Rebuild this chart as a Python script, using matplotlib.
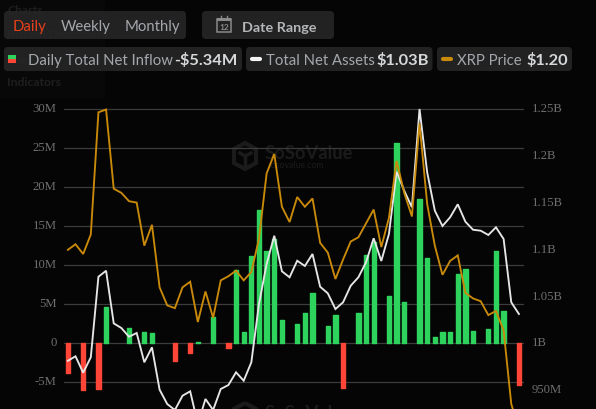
#!/usr/bin/env python3
"""XRP ETF daily net inflow, total net assets and XRP price, dark dashboard style."""

import matplotlib
matplotlib.use('Agg')
import matplotlib.pyplot as plt
from matplotlib.lines import Line2D
from matplotlib.patches import FancyBboxPatch, Polygon, Rectangle
from matplotlib.transforms import ScaledTranslation

# one entry per trading day, inflow in $M, 0 means no bar that day
NET_INFLOW = [
    -3.85, 0, -6.0, 0, -5.9, 4.6, 0, 0, 1.9, 0,
    1.35, 1.25, 0, 0, -2.3, 0, -1.3, 0.1, 0, 3.3,
    0, -0.6, 9.3, 1.45, 11.2, 17.1, 11.8, 13.3, 2.95, 0,
    2.4, 3.85, 6.4, 0, 2.2, 3.55, -5.8, 0, 3.85, 11.3,
    13.0, 0, 6.0, 25.7, 5.3, 0, 18.45, 10.85, 0.73, 1.45,
    1.45, 8.85, 9.45, 1.5, 0, 1.75, 11.85, 4.1, 0, -5.34,
]

# total net assets in $M
NET_ASSETS = [
    981, 985.8, 968.3, 984.7, 1070.8, 1077.2, 1021, 1016, 1006.7, 1010.7,
    979.4, 995.4, 950.1, 934.8, 928.4, 943.7, 948.4, 913.5, 940.2, 928.4,
    950.9, 955.1, 968.7, 959.7, 979.4, 1041.7, 1084.4, 1114.6, 1076.6, 1070.2,
    1087.9, 1082.3, 1095.1, 1060.1, 1053.1, 1036.3, 1043.5, 1061.2, 1070.2, 1086.2,
    1111.9, 1087.6, 1116.5, 1183, 1162.7, 1145, 1250, 1182.4, 1141.4, 1125,
    1134.3, 1148.2, 1129.6, 1121, 1120, 1115.4, 1123.6, 1111.1, 1043.5, 1031,
]

# XRP close in $
XRP_PRICE = [
    2.49, 2.53, 2.46, 2.60, 3.48, 3.50, 2.93, 2.90, 2.84, 2.83,
    2.52, 2.67, 2.22, 2.09, 2.07, 2.22, 2.26, 1.97, 2.19, 2.00,
    2.27, 2.30, 2.34, 2.27, 2.33, 2.57, 3.04, 3.18, 2.80, 2.69,
    2.87, 2.80, 2.86, 2.54, 2.47, 2.28, 2.42, 2.55, 2.58, 2.68,
    2.78, 2.51, 2.72, 3.13, 2.90, 2.73, 3.40, 2.82, 2.52, 2.31,
    2.41, 2.45, 2.18, 2.14, 2.12, 2.02, 2.05, 1.91, 1.38, 1.20,
]

LEFT_TICKS = [-5, 0, 5, 10, 15, 20, 25, 30]
LEFT_LABELS = ['-5M', '0', '5M', '10M', '15M', '20M', '25M', '30M']
RIGHT_TICKS = [950, 1000, 1050, 1100, 1150, 1200, 1250]
RIGHT_LABELS = ['950M', '1B', '1.05B', '1.1B', '1.15B', '1.2B', '1.25B']

BG = '#050505'
PILL = '#262626'
GREEN = '#2dd35c'
RED = '#ff4538'
ORANGE = '#c98a0a'
WHITE = '#e6e6e6'
TICK = '#6e6e6e'
GHOST = '#1b1b1b'
UI_FONT = 'Lato'

W, H = 596, 410
fig = plt.figure(figsize=(W / 100, H / 100), dpi=100, facecolor=BG)

# background layer in pixel coordinates: header widgets and watermarks
ui = fig.add_axes([0, 0, 1, 1], zorder=0)
ui.set_xlim(0, W)
ui.set_ylim(H, 0)
ui.axis('off')


def pill(x0, y0, x1, y1, color=PILL, alpha=0.9):
    ui.add_patch(FancyBboxPatch((x0 + 4, y0 + 4), x1 - x0 - 8, y1 - y0 - 8,
                                boxstyle='round,pad=4,rounding_size=4',
                                fc=color, ec='none', alpha=alpha, zorder=2))


def label(x, y, s, color='#a4a8ad', size=10.7, weight='normal', **kw):
    ui.text(x, y, s, color=color, fontsize=size, fontweight=weight,
            family=UI_FONT, va='center', zorder=3, **kw)


def dash(x0, x1, y, color):
    ui.add_line(Line2D([x0, x1], [y, y], color=color, lw=3,
                       solid_capstyle='round', zorder=3))


def watermark(dy, with_url=True):
    hexagon = [(245, 144), (256, 150), (256, 164), (245, 170), (234, 164), (234, 150)]
    ui.add_patch(Polygon([(x, y + dy) for x, y in hexagon], closed=True, fc='none',
                         ec=GHOST, lw=3, zorder=1))
    ui.add_line(Line2D([240, 245, 251], [154 + dy, 157 + dy, 154 + dy], color=GHOST, lw=2.5, zorder=1))
    ui.add_line(Line2D([245, 245], [157 + dy, 166 + dy], color=GHOST, lw=2.5, zorder=1))
    ui.text(265, 154 + dy, 'SoSoValue', color=GHOST, fontsize=13.2, fontweight='bold',
            family=UI_FONT, va='center', zorder=1)
    if with_url:
        ui.text(268, 166 + dy, 'sosovalue.com', color=GHOST, fontsize=6.3,
                family=UI_FONT, va='center', zorder=1)


# faded sidebar sitting behind the header
ui.add_patch(Rectangle((0, 0), 105, 100, fc='#080808', ec='none', zorder=0))
for y, s in [(11, 'Charts'), (35, 'Bitcoin Dashboard'), (60, 'Tracker'), (83, 'Indicators')]:
    ui.text(7, y, s, color='#1e1e1e', fontsize=8.8, fontweight='bold',
            family=UI_FONT, va='center', zorder=1)

watermark(0)
watermark(260, with_url=False)

# period selector and date range
pill(4, 12, 186, 40)
pill(202, 12, 334, 40)
label(12.5, 27.5, 'Daily', color='#e8401c')
label(61, 27.5, 'Weekly')
label(125, 27.5, 'Monthly')
label(242, 27.5, 'Date Range', color='#b4b6b8', size=10.4, weight='bold')

# calendar icon
ui.add_patch(Rectangle((217, 20), 14, 13, fc='none', ec='#8a8a8a', lw=1.1, zorder=3))
ui.add_patch(Rectangle((217, 19), 14, 3, fc='#8a8a8a', ec='none', zorder=3))
for x in (221, 227):
    ui.add_line(Line2D([x, x], [17, 20], color='#8a8a8a', lw=1, zorder=3))
ui.text(224, 27.5, '12', color='#8a8a8a', fontsize=6, family=UI_FONT,
        fontweight='bold', ha='center', va='center', zorder=3)

# legend chips
pill(4, 48, 242, 72)
pill(246, 48, 432.5, 72)
pill(437, 48, 572, 72)
ui.add_patch(Rectangle((8, 56), 8, 4, fc=GREEN, ec='none', zorder=3))
ui.add_patch(Rectangle((8, 60), 8, 4, fc=RED, ec='none', zorder=3))
label(28, 61, 'Daily Total Net Inflow')
label(174, 60.5, '-$5.34M', color='#d6d8da', size=11.8, weight='bold')
dash(252, 260, 60, '#f4f4f4')
label(266, 61, 'Total Net Assets')
label(376, 60.5, '$1.03B', color='#d6d8da', size=11.8, weight='bold')
dash(443, 451, 60, ORANGE)
label(457, 61, 'XRP Price')
label(526, 60.5, '$1.20', color='#d6d8da', size=11.8, weight='bold')

# chart axes, runs off the bottom edge of the figure
ax_top, ax_bottom, ax_left, ax_right = 104, 410, 63.5, 523.5
rect = [ax_left / W, 1 - ax_bottom / H, (ax_right - ax_left) / W, (ax_bottom - ax_top) / H]
ax = fig.add_axes(rect, zorder=2, facecolor='none')
ax_assets = fig.add_axes(rect, zorder=3, facecolor='none')
ax_price = fig.add_axes(rect, zorder=4, facecolor='none')

days = list(range(len(NET_INFLOW)))
bar_days = [d for d in days if NET_INFLOW[d] != 0]
bar_values = [NET_INFLOW[d] for d in bar_days]
bar_colors = [GREEN if v >= 0 else RED for v in bar_values]
ax.bar(bar_days, bar_values, width=0.56, color=bar_colors, edgecolor=bar_colors,
       linewidth=1.0, joinstyle='round', zorder=3)
ax_assets.plot(days, NET_ASSETS, color=WHITE, lw=1.35, solid_joinstyle='miter')
ax_price.plot(days, XRP_PRICE, color=ORANGE, lw=1.35, solid_joinstyle='miter')

x_lim = (-0.57, 59.6)
ax.set_xlim(x_lim)
ax_assets.set_xlim(x_lim)
ax_price.set_xlim(x_lim)
ax.set_ylim(-8.46, 30.77)
ax_assets.set_ylim(1000 - 8.46 * 250 / 30, 1000 + 30.77 * 250 / 30)
ax_price.set_ylim(1.344, 3.547)

ax.set_yticks(LEFT_TICKS, LEFT_LABELS)
ax.grid(axis='y', color='#3c3c3c', lw=0.9, zorder=0)
ax.set_axisbelow(True)
ax.set_xticks([])
ax.tick_params(axis='y', length=0, pad=5, labelsize=9.2, labelcolor=TICK)

ax_assets.set_yticks(RIGHT_TICKS, RIGHT_LABELS)
ax_assets.yaxis.tick_right()
ax_assets.set_xticks([])
ax_assets.tick_params(axis='y', length=0, pad=6, labelsize=9.2, labelcolor=TICK)

ax_price.axis('off')

lift = ScaledTranslation(0, 1.5 / 72, fig.dpi_scale_trans)
for tick_label in ax.get_yticklabels() + ax_assets.get_yticklabels():
    tick_label.set_family('Liberation Serif')
    tick_label.set_transform(tick_label.get_transform() + lift)

for a in (ax, ax_assets):
    for spine in a.spines.values():
        spine.set_visible(False)

fig.savefig('out.png', dpi=100, facecolor=BG)
plt.close()
